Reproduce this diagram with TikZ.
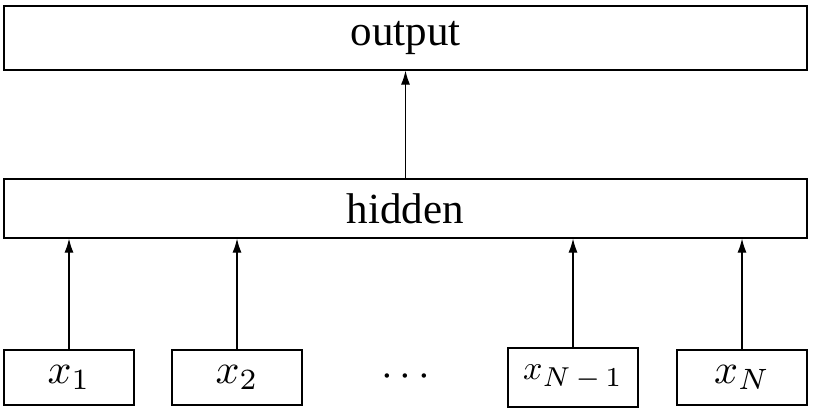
\documentclass[tikz,border=0pt]{standalone}
\usepackage{fix-cm}
\usepackage{graphicx}
\usepackage{fontspec}
\setmainfont{Liberation Serif}
\usetikzlibrary{arrows.meta}
\begin{document}
\begin{tikzpicture}[x=1pt,y=-1pt,
  box/.style={draw,line width=1.2pt,inner sep=0pt,anchor=center},
  widebox/.style={box,minimum width=803pt},
  inbox/.style={box,minimum width=130pt,minimum height=55pt},
  txt/.style={font=\fontsize{43}{48}\selectfont},
  arr/.style={line width=1.2pt,-{Latex[length=14pt,width=9pt]}}]
\useasboundingbox (0,0) rectangle (832,420);
\node[widebox,minimum height=64pt,txt] (out) at (405.5,38) {output};
\node[widebox,minimum height=59pt,txt] (hid) at (405.5,208.5) {hidden};
\node[inbox] (x1) at (69,377.5) {\scalebox{4.2}{$x_1$}};
\node[inbox] (x2) at (237,377.5) {\scalebox{4.2}{$x_2$}};
\node[inbox,minimum height=59pt] (xn1) at (573,377.5) {\scalebox{3.4}{$x_{\scalebox{1.15}{$\scriptstyle N\mkern3mu-\mkern3mu1$}}$}};
\node[inbox] (xn) at (742,377.5) {\scalebox{4.2}{$x_N$}};
\node (dots) at (405.5,377.5) {\scalebox{4.2}{$\cdots$}};
\draw[arr] (hid.north) -- (out.south);
\draw[arr] (x1.north) -- (x1.north |- hid.south);
\draw[arr] (x2.north) -- (x2.north |- hid.south);
\draw[arr] (xn1.north) -- (xn1.north |- hid.south);
\draw[arr] (xn.north) -- (xn.north |- hid.south);
\end{tikzpicture}
\end{document}
